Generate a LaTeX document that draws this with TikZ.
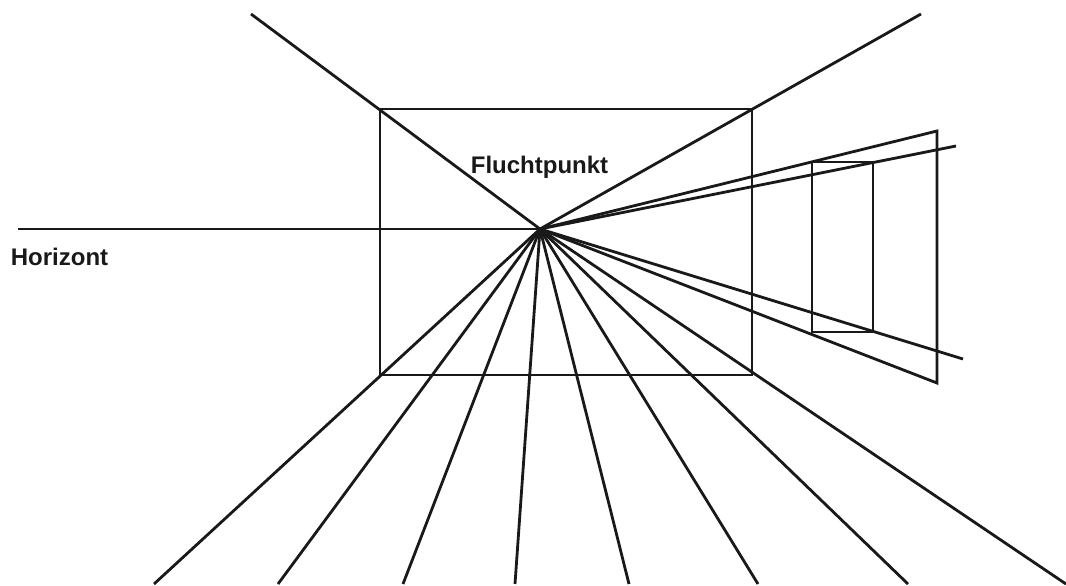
\documentclass[tikz,border=0pt]{standalone}
\usepackage{fontspec}
\setmainfont{Liberation Sans}
\begin{document}
\begin{tikzpicture}[x=0.5pt,y=-0.5pt,
  ln/.style={line width=1.4pt, draw=black!90, line cap=butt, line join=miter},
  lbl/.style={font=\bfseries\fontsize{12}{14}\selectfont, inner sep=0pt, text=black!90}]
\useasboundingbox (0,0) rectangle (1066,585);
% vanishing point
\coordinate (vp) at (540,229);
% horizon
\coordinate (hz) at (18,229);
\draw[ln] (hz) -- (vp);
% room rectangle
\coordinate (tl) at (380,109);
\coordinate (tr) at (752,109);
\coordinate (br) at (752,375);
\coordinate (bl) at (380,375);
\draw[ln] (tl) -- (tr) -- (br) -- (bl) -- cycle;
% upper diagonals
\coordinate (ul) at (251,14);
\coordinate (ur) at (921,14);
\draw[ln] (ul) -- (vp) -- (ur);
% floor lines
\foreach \x [count=\i] in {154,278,403,515,629,758,908,1066}{
  \coordinate (f\i) at (\x,584);
  \draw[ln] (vp) -- (f\i);
}
% right wall: outer frame
\coordinate (ot) at (937,131);
\coordinate (ob) at (937,383);
\draw[ln] (vp) -- (ot) -- (ob) -- (vp);
% window guide lines
\coordinate (gt) at (956,146);
\coordinate (gb) at (963,359);
\draw[ln] (vp) -- (gt);
\draw[ln] (vp) -- (gb);
% window
\coordinate (w1) at (812,162);
\coordinate (w2) at (873,162);
\coordinate (w3) at (873,332);
\coordinate (w4) at (812,332);
\draw[ln] (w1) -- (w2) -- (w3) -- (w4) -- cycle;
% labels
\node[lbl, anchor=base] (fp) at (539.5,173) {Fluchtpunkt};
\node[lbl, anchor=base west] (hzl) at (10.5,265) {Horizont};
\end{tikzpicture}
\end{document}
